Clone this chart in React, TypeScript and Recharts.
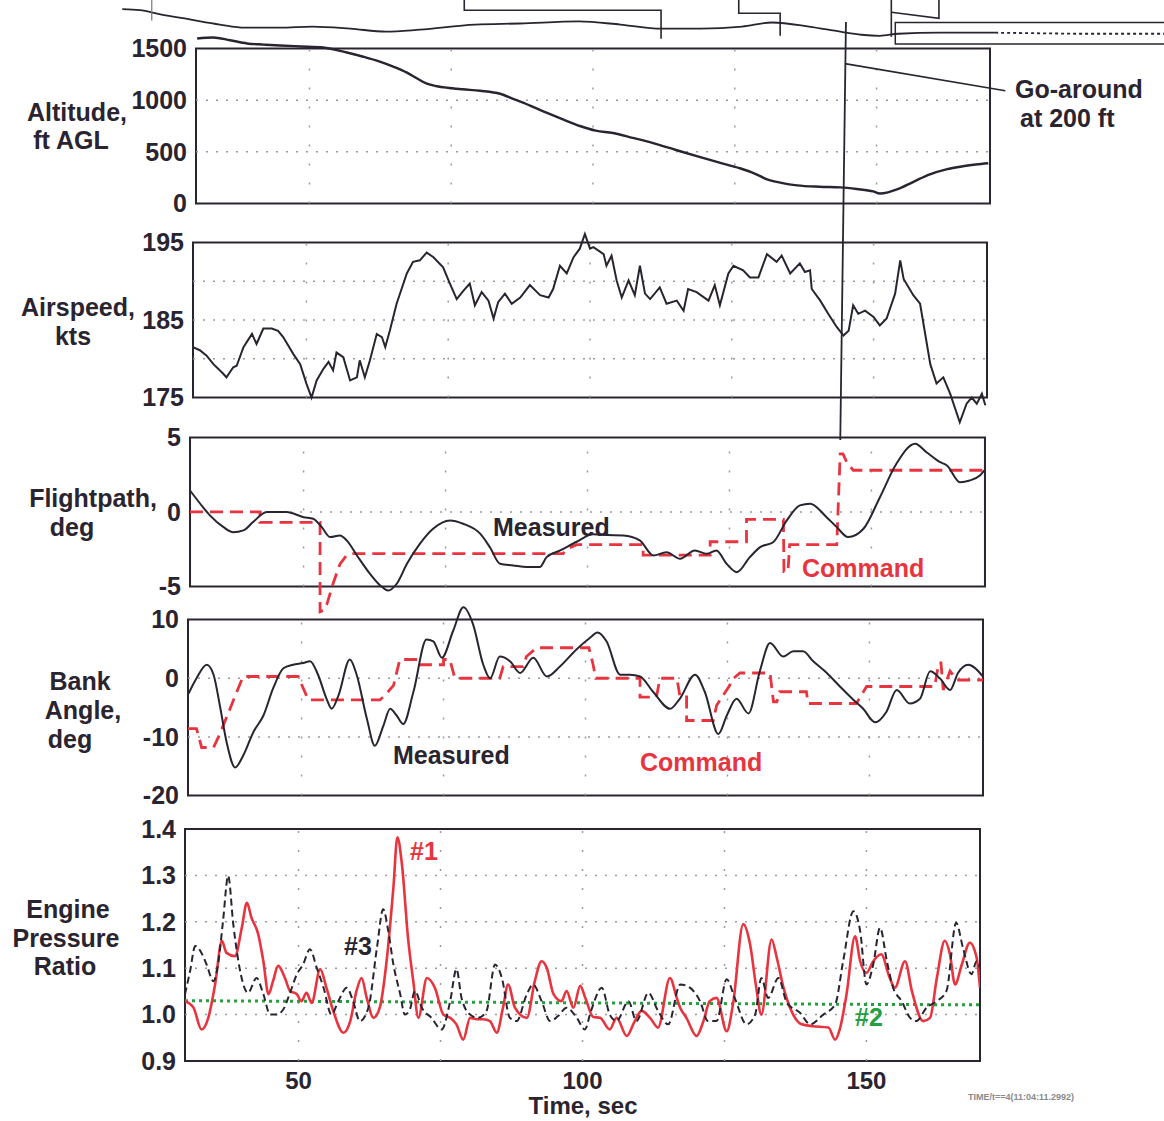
import React from 'react';
import { LineChart, Line, XAxis, YAxis, ReferenceLine, ReferenceArea } from 'recharts';

const FONT = '"Liberation Sans", Arial, Helvetica, sans-serif';
const INK = '#2a2430';
const RED = '#e8343e';
const GREEN = '#23a041';
const GRID = '#9a9a9a';

// ---- shared time axis ----
const TIME_DOMAIN: [number, number] = [30, 170];
const TIME_TICKS = [50, 100, 150];
const TIME_GRID = [50, 75, 100, 125, 150];

// ---- Altitude, ft AGL ----
const ALT_TICKS = [0, 500, 1000, 1500];
const ALT_GRID = [500, 1000];
const ALTITUDE = [
  [30.2, 1597], [33.0, 1607], [36.0, 1580], [39.0, 1549], [42.0, 1538], [44.8, 1529], [48.5, 1520],
  [52.4, 1510], [56.6, 1461], [59.5, 1420], [62.4, 1373], [65.0, 1320], [67.2, 1266], [69.0, 1210],
  [70.7, 1159], [72.5, 1135], [74.3, 1120], [77.0, 1105], [80.1, 1091], [83.6, 1062], [85.9, 1013],
  [89.0, 945], [91.9, 877], [94.8, 812], [97.7, 750], [100.5, 705], [103.5, 682], [107.0, 635],
  [110.6, 584], [114.5, 520], [118.3, 458], [122.0, 400], [125.9, 341], [128.5, 290], [130.7, 234],
  [133.2, 200], [136.0, 175], [140.0, 162], [143.6, 156], [146.5, 140], [149.4, 117], [150.6, 97],
  [152.0, 108], [153.6, 136], [156.5, 210], [159.4, 282], [162.3, 330], [165.2, 360], [167.5, 378],
  [169.7, 390],
];
const GO_LEADER = [[144.4, 1354], [172.7, 1091]];

// ---- Airspeed, kts ----
const SPD_TICKS = [175, 185, 195];
const SPD_GRID = [180, 185, 190];
const AIRSPEED = [
  [30.0, 181.5], [31.2, 181.1], [32.4, 180.4], [33.6, 179.3], [35.3, 178.1], [35.9, 177.6], [37.1, 178.9],
  [37.7, 179.1], [38.9, 181.5], [40.4, 183.2], [41.2, 181.9], [42.4, 183.9], [43.9, 183.9], [45.0, 183.6],
  [45.9, 182.8], [47.7, 180.6], [48.9, 179.3], [50.0, 176.8], [50.9, 175.0], [51.8, 177.2], [53.0, 178.7],
  [53.9, 179.6], [54.7, 178.5], [55.3, 180.8], [56.5, 180.2], [57.7, 177.2], [58.9, 177.6], [59.4, 179.8],
  [60.3, 177.6], [61.2, 179.8], [62.4, 183.2], [63.3, 182.8], [63.9, 181.5], [64.7, 183.6], [65.9, 187.1],
  [67.7, 191.0], [68.8, 192.5], [70.0, 192.7], [71.2, 193.7], [72.4, 193.1], [74.1, 191.8], [75.3, 189.7],
  [76.5, 187.7], [77.7, 188.8], [78.8, 189.7], [79.7, 186.9], [80.9, 188.6], [82.1, 187.5], [83.0, 185.2],
  [83.8, 187.3], [85.0, 188.4], [86.2, 187.1], [87.7, 187.9], [89.4, 189.5], [91.2, 188.2], [92.7, 187.9],
  [93.5, 189.0], [94.7, 192.0], [95.9, 191.0], [97.1, 193.1], [98.2, 194.2], [99.1, 196.1], [100.0, 194.2],
  [100.6, 194.4], [102.4, 193.5], [102.9, 192.0], [103.8, 193.3], [104.7, 190.1], [105.6, 187.9],
  [106.8, 190.1], [107.9, 188.2], [108.8, 192.0], [109.7, 188.4], [110.6, 187.7], [112.3, 189.2],
  [113.5, 187.1], [115.3, 187.5], [116.5, 186.2], [117.3, 189.0], [118.8, 188.6], [120.9, 187.5],
  [122.0, 189.5], [122.9, 186.9], [124.4, 191.0], [125.3, 192.0], [127.0, 191.4], [128.2, 190.5],
  [129.7, 190.5], [131.2, 193.5], [132.9, 192.5], [133.8, 193.3], [135.3, 191.0], [137.0, 192.3],
  [137.9, 191.2], [138.8, 191.4], [139.1, 189.0], [140.6, 187.5], [142.0, 185.8], [143.5, 184.1],
  [144.7, 183.0], [145.6, 183.6], [146.4, 186.9], [147.3, 185.8], [148.5, 186.2], [150.0, 185.4],
  [151.1, 184.3], [152.3, 185.2], [153.8, 188.4], [154.7, 192.7], [155.3, 190.3], [157.0, 188.2],
  [158.2, 187.1], [160.0, 179.3], [161.1, 176.8], [162.3, 177.6], [163.5, 175.5], [165.2, 171.8],
  [166.4, 174.2], [167.3, 175.0], [168.2, 174.2], [169.1, 175.5], [169.7, 174.0],
];

// ---- Flightpath, deg ----
const FP_TICKS = [-5, 0, 5];
const FP_GRID = [0];
const FP_MEASURED = [
  [30.0, 1.44], [31.8, 0.55], [33.5, -0.23], [35.9, -1.02], [37.6, -1.36], [39.4, -1.24], [41.1, -0.68],
  [43.5, -0.01], [47.0, 0.0], [50.0, -0.35], [51.7, -0.46], [53.2, -1.02], [54.7, -1.69], [56.4, -1.58],
  [57.6, -1.91], [59.4, -2.92], [61.7, -4.15], [63.5, -4.93], [64.9, -5.27], [66.4, -4.82], [68.2, -3.48],
  [70.5, -2.13], [72.8, -1.13], [75.8, -0.57], [78.1, -0.79], [81.1, -1.46], [82.8, -2.36], [84.6, -3.48],
  [86.9, -3.59], [89.3, -3.7], [91.6, -3.7], [92.8, -3.03], [95.2, -2.58], [98.1, -2.0], [101.0, -1.5],
  [103.5, -1.55], [106.3, -1.58], [109.2, -1.91], [111.6, -2.92], [113.9, -2.7], [116.3, -3.14],
  [118.9, -2.58], [121.0, -2.81], [122.7, -2.58], [124.5, -3.48], [126.3, -4.04], [128.6, -3.03],
  [130.4, -2.36], [132.7, -2.03], [135.1, -0.57], [137.4, 0.44], [139.2, 0.55], [142.1, -0.35],
  [143.9, -1.02], [145.9, -1.69], [148.6, -1.13], [151.5, 0.99], [154.4, 3.23], [157.7, 4.58],
  [159.7, 4.01], [162.1, 3.34], [163.3, 3.12], [165.6, 2.0], [167.3, 2.11], [169.1, 2.45], [169.9, 2.79],
];
const FP_COMMAND = [
  [30.0, 0], [42.3, 0], [42.3, -0.7], [52.9, -0.7], [52.9, -6.7], [53.6, -6.6], [54.1, -6.2], [55.2, -4.8],
  [56.4, -3.5], [57.6, -2.9], [58.8, -2.8], [95.7, -2.8], [96.3, -2.5], [98.1, -2.2], [109.8, -2.2],
  [109.8, -2.9], [121.6, -2.9], [121.6, -2.0], [128.0, -2.0], [128.0, -0.5], [134.5, -0.5], [134.6, -4.0],
  [135.3, -4.0], [135.6, -2.2], [143.9, -2.2], [144.5, 3.9], [145.0, 3.9], [145.7, 3.3], [146.8, 2.8],
  [170.0, 2.8],
];

// ---- Bank angle, deg ----
const BANK_TICKS = [-20, -10, 0, 10];
const BANK_GRID = [-10, 0];
const BANK_MEASURED = [
  [30.1, -2.6], [31.5, 0], [33.3, 2.3], [34.5, 0.6], [35.6, -4.6], [36.8, -10.9], [38.3, -15.2], [39.7, -13.2],
  [41.5, -9.2], [43.3, -6.3], [45.0, -1.7], [46.8, 1.7], [48.5, 2.3], [50.3, 2.6], [51.5, 2.9], [52.9, 0.6],
  [54.4, -3.5], [55.3, -5.2], [56.5, -2.9], [58.5, 3.2], [59.7, 0.6], [61.5, -6.9], [62.9, -11.5],
  [64.4, -8.1], [65.6, -5.2], [66.7, -6.3], [67.9, -7.8], [69.7, -2.3], [72.0, 6.6], [73.2, 6.3],
  [74.7, 3.5], [76.7, 8.1], [78.5, 12.1], [80.2, 9.2], [82.0, 2.3], [83.2, 0], [84.9, 3.7], [86.7, 2.9],
  [88.5, 0.9], [90.8, 3.5], [93.2, 0.3], [95.5, 2.0], [98.4, 4.9], [100.8, 6.9], [102.1, 7.8], [103.7, 6.3],
  [106.1, 0.6], [107.8, 0.6], [109.6, 0.3], [111.9, -2.3], [114.9, -5.2], [116.6, -3.5], [119.3, 0.6],
  [121.0, -2.3], [123.4, -9.5], [124.9, -6.3], [126.6, -3.5], [128.7, -6.0], [130.7, 1.2], [132.5, 6.0],
  [134.8, 3.7], [136.6, 4.6], [138.3, 4.6], [140.1, 2.9], [142.5, 0.9], [144.8, -1.4], [147.2, -3.7],
  [148.9, -5.2], [151.0, -7.5], [153.0, -5.7], [154.8, -2.0], [157.1, -4.3], [158.9, -3.5], [160.7, 1.2],
  [162.4, 0], [164.2, -2.0], [165.6, 0.9], [167.4, 2.3], [170.0, 0.3],
];
const BANK_COMMAND = [
  [30.0, -8.6], [31.5, -8.6], [32.4, -11.8], [34.5, -11.8], [35.6, -9.5], [37.4, -5.2], [38.6, -2.3],
  [39.7, 0.3], [49.4, 0.3], [50.3, -1.7], [51.2, -3.7], [63.8, -3.7], [64.7, -2.9], [66.2, -1.2],
  [67.3, 3.2], [70.9, 3.2], [70.9, 2.3], [75.0, 2.3], [75.0, 3.2], [76.1, 3.2], [77.0, 0], [84.9, 0],
  [85.5, 2.0], [89.0, 2.0], [89.6, 3.7], [91.4, 5.2], [100.6, 5.2], [101.3, 2.5], [101.8, 0], [109.6, 0],
  [109.6, -3.2], [112.5, -3.2], [113.1, 0], [116.1, 0], [116.6, -2.9], [117.8, -2.9], [117.8, -7.2],
  [122.5, -7.2], [123.1, -4.6], [125.4, -1.2], [125.7, -0.3], [127.2, 0.9], [132.5, 0.9], [133.1, -4.0],
  [133.7, -4.0], [134.2, -2.3], [138.9, -2.3], [139.2, -4.3], [147.7, -4.3], [149.5, -1.4], [161.5, -1.4],
  [162.2, 2.6], [162.6, 2.6], [163.0, -2.0], [164.2, 1.2], [165.4, -0.3], [170.0, -0.3],
];

// ---- Engine Pressure Ratio ----
const EPR_TICKS = [0.9, 1.0, 1.1, 1.2, 1.3, 1.4];
const EPR_GRID = [1.0, 1.1, 1.2, 1.3];
const EPR_1 = [
  [30.0, 1.029], [31.5, 1.015], [32.9, 0.968], [34.1, 0.993], [35.3, 1.065], [36.5, 1.159], [37.3, 1.133],
  [38.8, 1.126], [40.0, 1.187], [40.9, 1.241], [41.7, 1.209], [42.9, 1.173], [43.8, 1.115], [44.7, 1.044],
  [45.5, 1.072], [46.4, 1.105], [47.6, 1.079], [48.5, 1.051], [49.7, 1.044], [50.5, 1.029], [51.4, 1.047],
  [52.3, 1.025], [53.8, 1.098], [54.9, 1.058], [56.1, 1.008], [57.9, 0.961], [59.1, 0.986], [60.2, 1.051],
  [61.1, 1.079], [62.0, 1.036], [63.2, 0.993], [64.3, 1.015], [65.5, 1.115], [66.7, 1.274], [67.4, 1.382],
  [68.2, 1.324], [69.3, 1.162], [70.2, 1.072], [71.1, 0.993], [72.6, 1.079], [74.0, 1.058], [75.5, 1.0],
  [76.7, 0.993], [77.8, 0.979], [79.0, 0.946], [80.2, 0.993], [81.4, 0.99], [82.5, 0.99], [83.7, 0.986],
  [84.9, 0.961], [86.0, 1.015], [86.9, 1.065], [88.1, 1.015], [90.2, 0.993], [91.6, 1.072], [92.8, 1.115],
  [93.7, 1.101], [94.9, 1.044], [96.3, 1.029], [97.2, 1.051], [98.4, 1.015], [99.6, 1.062], [100.5, 1.036],
  [101.9, 0.995], [103.1, 0.993], [104.8, 0.968], [106.0, 0.993], [107.8, 0.954], [109.2, 0.986],
  [110.4, 1.008], [111.9, 0.993], [113.3, 0.972], [115.4, 1.079], [116.6, 1.036], [117.2, 1.015],
  [118.3, 0.993], [120.1, 0.954], [121.3, 0.986], [122.4, 1.029], [123.6, 1.036], [125.4, 0.964],
  [126.5, 1.022], [128.3, 1.195], [129.5, 1.152], [130.6, 1.058], [131.5, 1.0], [133.3, 1.162],
  [134.2, 1.123], [135.4, 1.058], [137.1, 1.0], [138.6, 0.979], [140.6, 0.975], [143.3, 0.972],
  [144.5, 0.946], [145.3, 0.968], [146.5, 1.044], [148.0, 1.169], [148.9, 1.115], [150.0, 1.09],
  [151.2, 1.115], [152.6, 1.13], [154.1, 1.079], [155.0, 1.058], [156.8, 1.115], [158.0, 1.051],
  [160.0, 0.986], [161.2, 0.993], [162.4, 1.079], [163.8, 1.159], [164.7, 1.13], [165.6, 1.065],
  [166.8, 1.108], [168.2, 1.155], [169.4, 1.123], [170.0, 1.058],
];
const EPR_3 = [
  [30.0, 1.044], [30.9, 1.094], [31.8, 1.148], [32.9, 1.133], [33.8, 1.108], [35.0, 1.072], [35.9, 1.115],
  [36.7, 1.202], [37.6, 1.299], [38.5, 1.195], [39.4, 1.115], [41.1, 1.047], [42.6, 1.079], [43.8, 1.044],
  [45.0, 1.0], [46.1, 1.0], [47.3, 1.011], [48.5, 1.047], [49.7, 1.087], [50.8, 1.108], [52.0, 1.141],
  [53.2, 1.101], [54.4, 1.058], [55.8, 1.0], [57.0, 1.029], [58.5, 1.058], [59.6, 1.029], [60.8, 0.986],
  [62.3, 1.015], [63.8, 1.144], [64.9, 1.227], [65.8, 1.18], [66.7, 1.108], [67.9, 1.044], [68.7, 1.0],
  [69.6, 1.011], [70.5, 1.051], [71.7, 1.015], [73.4, 0.993], [75.2, 0.968], [76.7, 1.029], [77.8, 1.098],
  [78.7, 1.036], [80.2, 1.0], [81.6, 0.993], [83.1, 1.008], [84.6, 1.108], [85.8, 1.079], [87.2, 0.993],
  [88.4, 0.986], [90.2, 1.044], [91.3, 1.065], [92.8, 1.029], [94.3, 0.986], [95.7, 0.997], [97.2, 1.015],
  [99.0, 0.993], [100.4, 0.968], [101.5, 1.008], [103.4, 1.058], [104.8, 1.0], [106.0, 0.986],
  [108.1, 1.029], [109.5, 0.986], [111.6, 1.047], [113.3, 1.008], [115.1, 0.979], [117.2, 1.065],
  [118.9, 1.058], [120.7, 1.029], [122.1, 0.986], [123.6, 0.986], [125.4, 1.076], [126.8, 1.036],
  [128.9, 0.979], [130.4, 1.0], [131.5, 1.079], [132.7, 1.036], [134.5, 1.079], [136.0, 1.025],
  [138.3, 1.004], [140.1, 0.979], [142.4, 1.0], [144.5, 1.022], [145.9, 1.115], [147.7, 1.223],
  [148.9, 1.18], [150.0, 1.065], [151.2, 1.108], [152.4, 1.187], [153.6, 1.115], [154.7, 1.058],
  [156.2, 1.029], [157.7, 0.993], [158.8, 0.986], [160.6, 1.015], [162.4, 1.029], [164.1, 1.051],
  [165.8, 1.198], [167.0, 1.144], [168.5, 1.087], [169.4, 1.115], [170.0, 1.101],
];
const EPR_2 = [[30, 1.03], [60, 1.028], [90, 1.026], [120, 1.024], [150, 1.022], [170, 1.021]];

// ---- cut-off trace strip at the top (partial panel above) ----
const STRIP_WAVE = [
  [17.0, 9], [20.1, 10], [23.7, 14], [28.9, 19], [34.2, 24], [38.6, 27], [44.8, 27], [50.5, 26], [57.2, 28],
  [63.5, 31], [69.5, 29], [79.2, 24], [87.1, 23], [97.5, 21], [104.8, 24], [112.0, 28], [118.9, 28],
  [126.3, 26], [131.6, 22], [138.1, 26], [143.6, 31], [147.3, 34], [150.6, 35], [153.8, 33], [161.2, 32],
  [170.9, 32],
];
const STRIP_WAVE_TAIL = [[170.9, 32], [185.0, 33], [200.7, 33]];
const STRIP_STEP_A = [[77.3, -2], [77.3, 10], [112.0, 10], [112.0, 38]];
const STRIP_STEP_B = [[125.7, -2], [125.7, 13], [133.0, 13], [133.0, 35]];
const STRIP_STEP_C = [[152.6, -2], [152.6, 36]];
const STRIP_STEP_D = [[152.6, 12], [161.0, 18], [161.0, -2]];
const STRIP_TICK = [[22.2, -2], [22.2, 20]];
const STRIP_BOX = { t0: 153.3, t1: 215, lo: 22, hi: 43 };

// ---- go-around marker (time, sec) ----
const GO_AROUND = [[144.6, 1], [143.6, 0]];

const pts = (a: number[][]) => a.map(([t, v]) => ({ t, v }));

type Frame = { left: number; right: number; top: number; bottom: number };
type Series = { data: number[][]; stroke: string; width: number; dash?: string; curve?: 'linear' | 'monotone' };

type PanelProps = {
  frame: Frame;
  yFrame: [number, number];
  yDomain: [number, number];
  yTicks: number[];
  hGrid: number[];
  series: Series[];
  tickFmt?: (v: number) => string;
  showX?: boolean;
  extra?: React.ReactNode[];
};

const tickStyle = { fontSize: 25, fontWeight: 700, fill: INK, fontFamily: FONT };
const xTickStyle = { fontSize: 24, fontWeight: 700, fill: INK, fontFamily: FONT };

function Panel(p: PanelProps) {
  const pxPer = (p.frame.bottom - p.frame.top) / (p.yFrame[1] - p.yFrame[0]);
  const plotTop = p.frame.top - (p.yDomain[1] - p.yFrame[1]) * pxPer;
  const plotBottom = p.frame.bottom + (p.yFrame[0] - p.yDomain[0]) * pxPer;
  const padTop = 20;
  const padBottom = p.showX ? 0 : 20;
  const xH = p.showX ? 40 : 0;
  const height = plotBottom - plotTop + padTop + padBottom + xH;
  return (
    <div style={{ position: 'absolute', left: 0, top: plotTop - padTop }}>
      <LineChart
        width={1164}
        height={height}
        margin={{ top: padTop, right: 1164 - p.frame.right, bottom: padBottom, left: 0 }}
      >
        <XAxis
          type="number"
          dataKey="t"
          domain={TIME_DOMAIN}
          allowDataOverflow
          hide={!p.showX}
          height={xH}
          ticks={TIME_TICKS}
          tickLine={false}
          axisLine={false}
          tickSize={0}
          tickMargin={11}
          tick={xTickStyle}
        />
        <YAxis
          type="number"
          domain={p.yDomain}
          allowDataOverflow
          width={p.frame.left}
          ticks={p.yTicks}
          tickFormatter={p.tickFmt}
          tickLine={false}
          axisLine={false}
          tickSize={0}
          tickMargin={9}
          tick={tickStyle}
          interval={0}
        />
        {p.hGrid.map((g) => (
          <ReferenceLine key={'h' + g} y={g} stroke={GRID} strokeWidth={1.5} strokeDasharray="2 8" />
        ))}
        {TIME_GRID.map((g) => (
          <ReferenceLine
            key={'v' + g}
            segment={[{ x: g, y: p.yFrame[0] }, { x: g, y: p.yFrame[1] }]}
            stroke={GRID}
            strokeWidth={1.5}
            strokeDasharray="2 17"
          />
        ))}
        <ReferenceArea
          x1={TIME_DOMAIN[0]}
          x2={TIME_DOMAIN[1]}
          y1={p.yFrame[0]}
          y2={p.yFrame[1]}
          fill="none"
          fillOpacity={0}
          stroke={INK}
          strokeWidth={2}
          ifOverflow="visible"
        />
        {p.extra}
        {p.series.map((s, i) => (
          <Line
            key={i}
            data={pts(s.data)}
            dataKey="v"
            type={s.curve || 'linear'}
            stroke={s.stroke}
            strokeWidth={s.width}
            strokeDasharray={s.dash}
            dot={false}
            activeDot={false}
            isAnimationActive={false}
          />
        ))}
      </LineChart>
    </div>
  );
}

const ALT_FRAME: Frame = { left: 196, right: 990, top: 48, bottom: 203 };
const SPD_FRAME: Frame = { left: 193, right: 987, top: 242, bottom: 397 };
const FP_FRAME: Frame = { left: 190, right: 985, top: 437, bottom: 586 };
const BANK_FRAME: Frame = { left: 188, right: 983, top: 620, bottom: 796 };
const EPR_FRAME: Frame = { left: 185, right: 980, top: 829, bottom: 1061 };

function Strip() {
  const pxPerSec = (ALT_FRAME.right - ALT_FRAME.left) / (TIME_DOMAIN[1] - TIME_DOMAIN[0]);
  const dom: [number, number] = [TIME_DOMAIN[0] - ALT_FRAME.left / pxPerSec, TIME_DOMAIN[0] + (1164 - ALT_FRAME.left) / pxPerSec];
  const lines: Series[] = [
    { data: STRIP_WAVE, stroke: INK, width: 1.8, curve: 'monotone' },
    { data: STRIP_WAVE_TAIL, stroke: INK, width: 1.8, dash: '3 3' },
    { data: STRIP_STEP_A, stroke: INK, width: 1.6 },
    { data: STRIP_STEP_B, stroke: INK, width: 1.6 },
    { data: STRIP_STEP_C, stroke: INK, width: 1.6 },
    { data: STRIP_STEP_D, stroke: INK, width: 1.6 },
    { data: STRIP_TICK, stroke: '#777', width: 1.2 },
  ];
  return (
    <div style={{ position: 'absolute', left: 0, top: 0 }}>
      <LineChart width={1164} height={46} margin={{ top: 0, right: 0, bottom: 0, left: 0 }}>
        <XAxis type="number" dataKey="t" domain={dom} allowDataOverflow hide />
        <YAxis type="number" domain={[0, 45]} reversed allowDataOverflow hide />
        <ReferenceArea
          x1={STRIP_BOX.t0}
          x2={STRIP_BOX.t1}
          y1={STRIP_BOX.lo}
          y2={STRIP_BOX.hi}
          fill="none"
          fillOpacity={0}
          stroke={INK}
          strokeWidth={1.5}
          ifOverflow="visible"
        />
        {lines.map((s, i) => (
          <Line
            key={i}
            data={pts(s.data)}
            dataKey="v"
            type={s.curve || 'linear'}
            stroke={s.stroke}
            strokeWidth={s.width}
            strokeDasharray={s.dash}
            dot={false}
            activeDot={false}
            isAnimationActive={false}
          />
        ))}
      </LineChart>
    </div>
  );
}

function GoAroundMarker() {
  const top = 22;
  const bottom = 440;
  return (
    <div style={{ position: 'absolute', left: 0, top: 0 }}>
      <LineChart
        width={1164}
        height={bottom + 1}
        margin={{ top, right: 1164 - ALT_FRAME.right, bottom: 1, left: ALT_FRAME.left }}
      >
        <XAxis type="number" dataKey="t" domain={TIME_DOMAIN} allowDataOverflow hide />
        <YAxis type="number" domain={[0, 1]} allowDataOverflow hide />
        <Line
          data={pts(GO_AROUND)}
          dataKey="v"
          type="linear"
          stroke={INK}
          strokeWidth={1.8}
          dot={false}
          activeDot={false}
          isAnimationActive={false}
        />
      </LineChart>
    </div>
  );
}

type Txt = { text: string; x: number; y: number; color?: string; size?: number; anchor?: 'start' | 'center' };

function TextAt({ text, x, y, color = INK, size = 25, anchor = 'center' }: Txt) {
  const lh = Math.round(size * 1.1);
  const style: React.CSSProperties = {
    position: 'absolute',
    top: y - lh / 2,
    height: lh,
    lineHeight: `${lh}px`,
    fontFamily: FONT,
    fontWeight: 700,
    fontSize: size,
    color,
    whiteSpace: 'nowrap',
  };
  if (anchor === 'center') {
    style.left = x - 200;
    style.width = 400;
    style.textAlign = 'center';
  } else {
    style.left = x;
  }
  return <div style={style}>{text}</div>;
}

const AXIS_TITLES: Txt[] = [
  { text: 'Altitude,', x: 77, y: 112 },
  { text: 'ft AGL', x: 71, y: 140 },
  { text: 'Airspeed,', x: 78, y: 307 },
  { text: 'kts', x: 73, y: 336 },
  { text: 'Flightpath,', x: 93, y: 498 },
  { text: 'deg', x: 72, y: 527 },
  { text: 'Bank', x: 80, y: 681 },
  { text: 'Angle,', x: 83, y: 710 },
  { text: 'deg', x: 70, y: 739 },
  { text: 'Engine', x: 68, y: 909 },
  { text: 'Pressure', x: 66, y: 938 },
  { text: 'Ratio', x: 65, y: 966 },
  { text: 'Time, sec', x: 583, y: 1106, size: 24 },
];

const ANNOTATIONS: Txt[] = [
  { text: 'Measured', x: 493, y: 527, anchor: 'start' },
  { text: 'Command', x: 802, y: 568, color: RED, anchor: 'start' },
  { text: 'Measured', x: 393, y: 755, anchor: 'start' },
  { text: 'Command', x: 640, y: 762, color: RED, anchor: 'start' },
  { text: '#1', x: 410, y: 851, color: RED, anchor: 'start' },
  { text: '#3', x: 344, y: 946, anchor: 'start' },
  { text: '#2', x: 855, y: 1017, color: GREEN, anchor: 'start' },
  { text: 'Go-around', x: 1015, y: 89, anchor: 'start' },
  { text: 'at 200 ft', x: 1020, y: 118, anchor: 'start' },
  { text: 'TIME/t==4(11:04:11.2992)', x: 968, y: 1097, color: '#8a8a8a', size: 9, anchor: 'start' },
];

export default function App() {
  return (
    <div
      style={{
        position: 'absolute',
        left: 0,
        top: 0,
        width: 1164,
        height: 1121,
        background: '#ffffff',
        overflow: 'hidden',
      }}
    >
      <Strip />
      <Panel
        frame={ALT_FRAME}
        yFrame={[0, 1500]}
        yDomain={[0, 1650]}
        yTicks={ALT_TICKS}
        hGrid={ALT_GRID}
        series={[{ data: ALTITUDE, stroke: INK, width: 2.4, curve: 'monotone' }]}
        extra={[
          <ReferenceLine
            key="leader"
            segment={[
              { x: GO_LEADER[0][0], y: GO_LEADER[0][1] },
              { x: GO_LEADER[1][0], y: GO_LEADER[1][1] },
            ]}
            stroke={INK}
            strokeWidth={1.6}
            ifOverflow="visible"
          />,
        ]}
      />
      <Panel
        frame={SPD_FRAME}
        yFrame={[175, 195]}
        yDomain={[171, 197]}
        yTicks={SPD_TICKS}
        hGrid={SPD_GRID}
        series={[{ data: AIRSPEED, stroke: INK, width: 2 }]}
      />
      <Panel
        frame={FP_FRAME}
        yFrame={[-5, 5]}
        yDomain={[-7.5, 5.5]}
        yTicks={FP_TICKS}
        hGrid={FP_GRID}
        series={[
          { data: FP_COMMAND, stroke: RED, width: 2.8, dash: '13 7' },
          { data: FP_MEASURED, stroke: INK, width: 2, curve: 'monotone' },
        ]}
      />
      <Panel
        frame={BANK_FRAME}
        yFrame={[-20, 10]}
        yDomain={[-20, 13]}
        yTicks={BANK_TICKS}
        hGrid={BANK_GRID}
        series={[
          { data: BANK_COMMAND, stroke: RED, width: 2.8, dash: '13 7' },
          { data: BANK_MEASURED, stroke: INK, width: 2, curve: 'monotone' },
        ]}
      />
      <Panel
        frame={EPR_FRAME}
        yFrame={[0.9, 1.4]}
        yDomain={[0.9, 1.4]}
        yTicks={EPR_TICKS}
        hGrid={EPR_GRID}
        tickFmt={(v: number) => v.toFixed(1)}
        showX
        series={[
          { data: EPR_2, stroke: GREEN, width: 3, dash: '3 4' },
          { data: EPR_1, stroke: RED, width: 2.6, curve: 'monotone' },
          { data: EPR_3, stroke: INK, width: 2, dash: '7 4', curve: 'monotone' },
        ]}
      />
      <GoAroundMarker />
      {AXIS_TITLES.map((t, i) => (
        <TextAt key={'a' + i} {...t} />
      ))}
      {ANNOTATIONS.map((t, i) => (
        <TextAt key={'n' + i} {...t} />
      ))}
    </div>
  );
}
